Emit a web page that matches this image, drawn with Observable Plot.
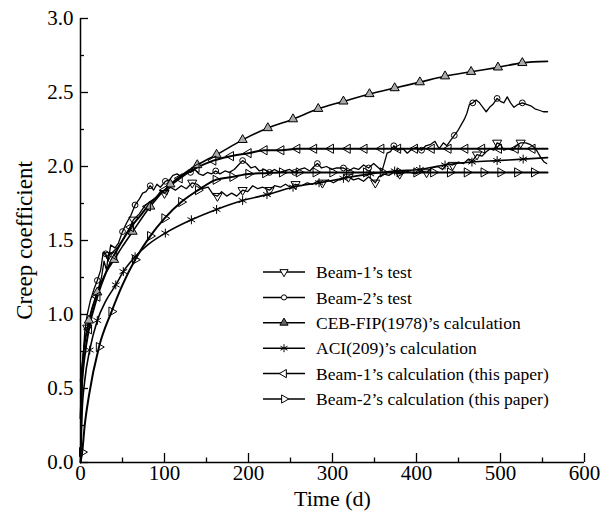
<!DOCTYPE html>
<html><head><meta charset="utf-8">
<script src="https://cdn.jsdelivr.net/npm/d3@7"></script>
<script src="https://cdn.jsdelivr.net/npm/@observablehq/plot@0.6"></script>
<style>
body{margin:0;background:#fff}
#wrap{position:relative;width:610px;height:525px;font-family:"Liberation Serif","Times New Roman",serif}
#legend{position:absolute;left:0;top:0}
</style>
</head><body><div id="wrap"></div>
<script>
// ---------- data ----------
const legendLabels = [
  "Beam-1\u2019s test",
  "Beam-2\u2019s test",
  "CEB-FIP(1978)\u2019s calculation",
  "ACI(209)\u2019s calculation",
  "Beam-1\u2019s calculation (this paper)",
  "Beam-2\u2019s calculation (this paper)"
];
const xTicks = [0, 100, 200, 300, 400, 500, 600];
const xMinor = [50, 150, 250, 350, 450, 550];
const yTicks = [0, 0.5, 1.0, 1.5, 2.0, 2.5, 3.0];
const yMinor = [0.25, 0.75, 1.25, 1.75, 2.25, 2.75];

// Beam-1's test
const b1TestT = [0,1,3,5,8,12,16,20,25,28,31,33,38,45,52,58,63,70,76,82,90,95,100,107,113,120,126,133,139,145,152,158,163,168,174,180,186,193,199,205,211,217,225,231,238,244,250,256,263,270,276,282,288,295,301,307,313,319,325,331,337,343,347,351,355,361,367,373,380,386,393,399,405,412,418,425,431,437,443,450,456,462,467,472,478,483,488,492,496,500,504,509,514,519,524,530,535,540,544,548,552,555];
const b1TestY = [0.05,0.55,0.72,0.82,0.91,1.0,1.08,1.15,1.25,1.36,1.30,1.40,1.42,1.46,1.52,1.58,1.64,1.68,1.73,1.76,1.79,1.83,1.82,1.86,1.84,1.87,1.85,1.89,1.88,1.85,1.86,1.81,1.80,1.83,1.80,1.82,1.80,1.84,1.83,1.87,1.85,1.86,1.84,1.87,1.86,1.88,1.86,1.88,1.87,1.89,1.88,1.90,1.89,1.91,1.89,1.91,1.92,1.93,1.91,1.92,1.90,1.93,1.91,1.89,1.93,1.95,1.94,1.96,1.95,1.97,1.96,1.95,1.97,1.96,1.99,2.00,1.98,2.02,2.01,2.03,2.02,2.05,2.04,2.08,2.07,2.10,2.12,2.11,2.16,2.15,2.11,2.12,2.11,2.14,2.16,2.16,2.15,2.13,2.10,2.06,2.03,2.02];
const b1TestMarks = [8,33,63,100,133,163,193,225,256,288,319,351,380,412,443,472,496,524];

// Beam-2's test
const b2TestT = [0,1,3,5,8,12,16,20,24,27,30,33,36,41,45,50,55,60,65,70,74,78,83,87,91,95,101,106,110,115,120,126,131,136,141,146,151,156,161,166,172,177,183,188,193,198,203,208,213,219,225,231,237,243,249,255,261,267,273,278,282,287,293,299,305,313,319,325,331,337,343,349,355,359,362,365,369,373,378,384,389,395,400,406,411,417,422,427,432,436,441,445,449,453,457,460,463,467,471,475,479,483,487,491,496,500,504,508,512,516,521,526,531,536,541,546,551,556];
const b2TestY = [0.05,0.35,0.70,0.88,1.00,1.10,1.17,1.23,1.30,1.42,1.41,1.36,1.47,1.45,1.48,1.56,1.62,1.67,1.74,1.78,1.82,1.83,1.87,1.84,1.88,1.86,1.90,1.91,1.94,1.95,1.93,1.96,1.96,1.98,1.95,1.94,1.96,1.95,1.97,1.95,1.97,1.96,1.98,2.01,2.04,2.02,1.99,2.00,1.97,1.98,1.96,1.98,1.96,1.97,1.98,1.96,1.98,1.99,1.97,2.00,2.02,1.99,2.00,1.98,1.99,1.99,1.97,1.99,1.98,2.01,1.99,2.02,1.99,1.97,2.03,2.09,2.10,2.14,2.11,2.12,2.09,2.12,2.13,2.11,2.14,2.15,2.17,2.12,2.16,2.14,2.18,2.21,2.24,2.28,2.32,2.36,2.42,2.43,2.45,2.43,2.40,2.37,2.40,2.42,2.46,2.44,2.43,2.47,2.43,2.40,2.42,2.43,2.42,2.41,2.39,2.38,2.37,2.37];
const b2TestMarks = [20,30,50,65,83,101,131,161,193,225,255,282,313,343,373,406,445,467,496,526];

// CEB-FIP(1978)
const cebT = [0,2,5,10,20,30,40,50,62,83,107,139,162,193,223,253,283,313,344,374,404,434,465,497,526,556];
const cebY = [0.55,0.66,0.80,0.96,1.15,1.28,1.37,1.46,1.56,1.73,1.88,2.01,2.08,2.18,2.26,2.32,2.39,2.44,2.49,2.53,2.57,2.61,2.64,2.67,2.70,2.71];
const cebMarks = [10,20,40,62,83,107,139,162,193,223,253,283,313,344,374,404,434,465,497,526];

// ACI(209)
const aciT = [0,2,5,11,20,30,42,51,65,80,101,132,162,193,222,253,284,313,345,374,404,434,466,496,527,556];
const aciY = [0.0,0.35,0.55,0.76,0.96,1.09,1.20,1.29,1.39,1.47,1.55,1.64,1.71,1.77,1.81,1.86,1.89,1.92,1.95,1.97,1.98,2.01,2.03,2.04,2.05,2.06];
const aciMarks = [11,20,42,51,65,101,132,162,193,222,253,284,313,345,374,404,434,466,496,527];

// Beam-1's calculation
const b1CalcT = [0,2,5,10,20,30,40,50,60,70,80,90,100,118,138,158,179,200,219,239,258,278,298,318,338,358,378,398,418,438,458,478,498,518,538,556];
const b1CalcY = [0.30,0.55,0.72,0.90,1.12,1.28,1.40,1.50,1.59,1.66,1.73,1.79,1.84,1.92,1.99,2.04,2.07,2.09,2.11,2.11,2.12,2.12,2.12,2.12,2.12,2.12,2.12,2.12,2.12,2.12,2.12,2.12,2.12,2.12,2.12,2.12];
const b1CalcMarks = [10,20,40,60,80,100,118,138,158,179,200,219,239,258,278,298,318,338,358,378,398,418,438,458,478,498,518,538];

// Beam-2's calculation
const b2CalcT = [0,2,5,10,22,37,50,65,83,100,120,140,161,181,200,220,240,260,280,300,320,340,360,380,400,420,440,460,480,500,520,540,556];
const b2CalcY = [0.0,0.07,0.25,0.45,0.78,1.02,1.20,1.37,1.53,1.65,1.76,1.84,1.91,1.93,1.95,1.955,1.96,1.96,1.96,1.96,1.96,1.96,1.96,1.96,1.96,1.96,1.96,1.96,1.96,1.96,1.96,1.96,1.96];
const b2CalcMarks = [2,22,37,65,83,100,120,140,161,181,200,220,240,260,280,300,320,340,360,380,400,420,440,460,480,500,520,540];

// ---------- build ----------
const series = [
  {t: b1TestT, y: b1TestY, marks: b1TestMarks, symbol: "triangle", rotate: 180, fill: "none", curve: "linear", sw: 1.3},
  {t: b2TestT, y: b2TestY, marks: b2TestMarks, symbol: "circle", rotate: 0, fill: "none", curve: "linear", sw: 1.3},
  {t: cebT, y: cebY, marks: cebMarks, symbol: "triangle", rotate: 0, fill: "#aaa", curve: "monotone-x", sw: 1.6},
  {t: aciT, y: aciY, marks: aciMarks, symbol: "asterisk", rotate: 0, fill: "none", curve: "monotone-x", sw: 1.6},
  {t: b1CalcT, y: b1CalcY, marks: b1CalcMarks, symbol: "triangle", rotate: -90, fill: "none", curve: "monotone-x", sw: 2},
  {t: b2CalcT, y: b2CalcY, marks: b2CalcMarks, symbol: "triangle", rotate: 90, fill: "none", curve: "monotone-x", sw: 2}
];
series.forEach((s, k) => {
  s.name = legendLabels[k];
  s.rows = s.t.map((t, i) => ({t, y: s.y[i], mark: s.marks.includes(t)}));
});
const symSize = {triangle: 3.4, circle: 2.9, asterisk: 4.2};

const W = 610, H = 525, mL = 80, mR = 26, mT = 18, mB = 63;
const plotW = W - mL - mR, plotH = H - mT - mB;

const marks = [];
series.forEach(s => {
  marks.push(Plot.line(s.rows, {x: "t", y: "y", curve: s.curve, stroke: "black", strokeWidth: s.sw}));
});
series.forEach(s => {
  marks.push(Plot.dot(s.rows.filter(d => d.mark), {x: "t", y: "y", symbol: s.symbol, rotate: s.rotate, r: symSize[s.symbol], stroke: "black", strokeWidth: 1, fill: s.fill}));
});
// axes
marks.push(
  Plot.ruleX([0], {stroke: "black", strokeWidth: 1.5}),
  Plot.ruleY([0], {stroke: "black", strokeWidth: 1.5}),
  Plot.tickX(xTicks, {x: d => d, insetTop: plotH - 9, stroke: "black", strokeWidth: 1.3}),
  Plot.tickX(xMinor, {x: d => d, insetTop: plotH - 4.5, stroke: "black", strokeWidth: 1.3}),
  Plot.tickY(yTicks, {y: d => d, insetRight: plotW - 8, stroke: "black", strokeWidth: 1.3}),
  Plot.tickY(yMinor, {y: d => d, insetRight: plotW - 4, stroke: "black", strokeWidth: 1.3}),
  Plot.axisX({ticks: xTicks, tickSize: 0, tickPadding: 3, label: null, fontSize: 21, tickFormat: d => String(d)}),
  Plot.axisY({ticks: yTicks, tickSize: 0, tickPadding: 7, label: null, fontSize: 21, tickFormat: d => d.toFixed(1)}),
  Plot.text(["Time (d)"], {frameAnchor: "bottom", dy: 43, fontSize: 22, fill: "black"}),
  Plot.text(["Creep coefficient"], {frameAnchor: "left", dx: -56, rotate: -90, textAnchor: "middle", lineAnchor: "middle", fontSize: 23, fill: "black"})
);

const chart = Plot.plot({
  width: W, height: H,
  marginLeft: mL, marginRight: mR, marginTop: mT, marginBottom: mB,
  style: {fontFamily: '"Liberation Serif","Times New Roman",serif', fontSize: "21px", color: "black", background: "white"},
  x: {domain: [0, 600], axis: null},
  y: {domain: [0, 3], axis: null},
  marks
});
const wrap = document.getElementById("wrap");
wrap.appendChild(chart);

// ---------- legend overlay ----------
const lg = d3.select(wrap).append("svg").attr("id", "legend").attr("width", W).attr("height", H);
const symMap = {triangle: d3.symbolTriangle, circle: d3.symbolCircle, asterisk: d3.symbolAsterisk};
series.forEach((s, k) => {
  const y = 272 + k * 25.4;
  const g = lg.append("g");
  g.append("line").attr("x1", 263).attr("x2", 305).attr("y1", y).attr("y2", y).attr("stroke", "black").attr("stroke-width", 1.5);
  const r = symSize[s.symbol];
  g.append("path")
    .attr("d", d3.symbol(symMap[s.symbol], Math.PI * r * r * 0.8)())
    .attr("transform", `translate(284,${y}) rotate(${s.rotate})`)
    .attr("fill", s.symbol === "triangle" && s.fill !== "none" ? "#666" : (s.fill === "none" ? "white" : s.fill))
    .attr("stroke", "black").attr("stroke-width", 1);
  g.append("text").attr("x", 316).attr("y", y).attr("dy", "0.35em")
    .attr("font-size", 17.5).attr("font-family", '"Liberation Serif","Times New Roman",serif')
    .attr("fill", "black").text(s.name);
});
</script></body></html>
